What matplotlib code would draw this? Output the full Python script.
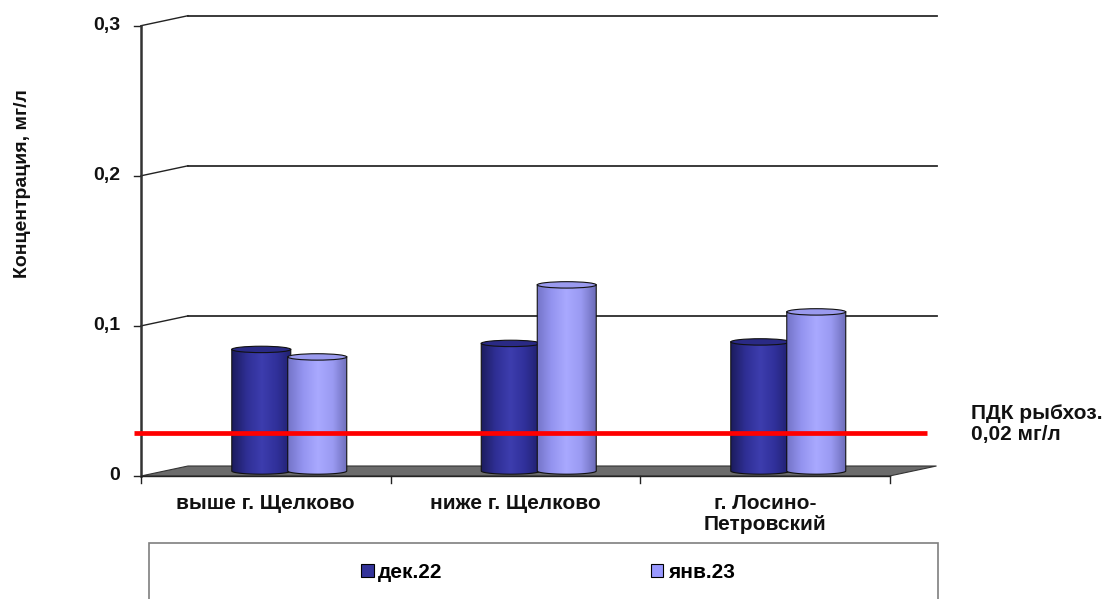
import numpy as np
import matplotlib

matplotlib.use("Agg")
import matplotlib.pyplot as plt
from matplotlib.colors import LinearSegmentedColormap
from matplotlib.patches import Ellipse, Patch, PathPatch, Polygon, Rectangle
from matplotlib.path import Path

plt.rcParams["font.family"] = ["Liberation Sans", "DejaVu Sans"]
plt.rcParams["font.weight"] = "bold"

# --- data ---
categories = ["выше г. Щелково", "ниже г. Щелково", "г. Лосино-\nПетровский"]
series_names = ["дек.22", "янв.23"]
dec22 = [0.081, 0.085, 0.086]
jan23 = [0.076, 0.124, 0.106]
y_ticks = [0.0, 0.1, 0.2, 0.3]
y_tick_labels = ["0", "0,1", "0,2", "0,3"]
y_label = "Концентрация, мг/л"
pdk_level = 0.0285
pdk_label = "ПДК рыбхоз.\n0,02 мг/л"

# --- layout (pixels) ---
W, H = 1107, 599
X0, Y0 = 141, 123          # front-plane origin, from left / bottom
PX_X, PX_Y = 249.5, 1501.0  # pixels per category / per unit value
DX, DY = 47 / PX_X, 10 / PX_Y  # depth offset of the back wall
CYL_W, CYL_OFF, CYL_EY = 59 / PX_X, 28 / PX_X, 3.2 / PX_Y

DARK_CMAP = LinearSegmentedColormap.from_list(
    "dark", ["#1c1c5e", "#2f2f95", "#3d3dae", "#30309a", "#20206c"])
LIGHT_CMAP = LinearSegmentedColormap.from_list(
    "light", ["#7474c8", "#9494f0", "#a9a9ff", "#9a9af2", "#6c6cb8"])
DARK_TOP, LIGHT_TOP = "#2a2a85", "#9a9aee"
DARK, LIGHT = "#333399", "#9999ff"


def cylinder(ax, xc, base, height, cmap, top_color, z):
    left, right = xc - CYL_W / 2, xc + CYL_W / 2
    top = base + height
    t = np.linspace(np.pi, 2 * np.pi, 40)
    arc = np.column_stack([xc + CYL_W / 2 * np.cos(t), base + CYL_EY * np.sin(t)])
    verts = np.vstack([[left, top], arc, [right, top], [left, top]])
    path = Path(verts, closed=True)
    grad = np.linspace(0, 1, 256).reshape(1, -1)
    im = ax.imshow(grad, extent=(left, right, base - CYL_EY, top), cmap=cmap,
                   aspect="auto", origin="lower", zorder=z, interpolation="bilinear")
    clip = PathPatch(path, transform=ax.transData, facecolor="none", edgecolor="none")
    ax.add_patch(clip)
    im.set_clip_path(clip)
    ax.plot(verts[:-1, 0], verts[:-1, 1], color="#111111", lw=0.8, zorder=z + 0.1)
    ax.add_patch(Ellipse((xc, top), CYL_W, 2 * CYL_EY, facecolor=top_color,
                         edgecolor="#111111", lw=0.8, zorder=z + 0.2))


fig = plt.figure(figsize=(W / 100, H / 100), dpi=100)
ax = fig.add_axes([0, 0, 1, 1])
ax.set_axis_off()

n = len(categories)

# floor
ax.add_patch(Polygon([(0, 0), (n, 0), (n + DX, DY), (DX, DY)], closed=True,
                     facecolor="#6b6b6b", edgecolor="#333333", lw=0.8, zorder=1))

# back-wall gridlines, wall diagonals and y ticks
for v, lab in zip(y_ticks, y_tick_labels):
    if v > 0:
        ax.plot([DX, n + DX], [v + DY, v + DY], color="#2b2b2b", lw=1.3, zorder=1)
        ax.plot([0, DX], [v, v + DY], color="#222222", lw=1.0, zorder=1)
    ax.plot([-7 / PX_X, 0], [v, v], color="#222222", lw=1.0, zorder=2)
    ax.text(-21 / PX_X, v, lab, ha="right", va="center", fontsize=14, color="#111111")

# front axis lines and category ticks
ax.plot([0, 0], [0, y_ticks[-1]], color="#333333", lw=1.8, zorder=2)
ax.plot([0, n], [0, 0], color="#222222", lw=1.0, zorder=2)
for i in range(n + 1):
    ax.plot([i, i], [0, -7 / PX_Y], color="#222222", lw=1.0, zorder=2)

# cylinders at mid depth
for i, (a, b) in enumerate(zip(dec22, jan23)):
    xc = i + 0.5 + DX / 2
    cylinder(ax, xc - CYL_OFF, DY / 2, a, DARK_CMAP, DARK_TOP, 3)
    cylinder(ax, xc + CYL_OFF, DY / 2, b, LIGHT_CMAP, LIGHT_TOP, 4)

# PDK reference line
ax.plot([-7 / PX_X, (927 - X0) / PX_X], [pdk_level, pdk_level], color="#ff0000",
        lw=3.4, solid_capstyle="butt", zorder=10)
ax.text((971 - X0) / PX_X, (476 - 424) / PX_Y, pdk_label, ha="left", va="center",
        fontsize=15, linespacing=1.08, color="#111111")

# category labels
for i, cat in enumerate(categories):
    ax.text(i + 0.5, -18 / PX_Y, cat, ha="center", va="top", fontsize=15,
            linespacing=1.12, color="#111111")

ax.text((22 - X0) / PX_X, (476 - 184) / PX_Y, y_label, rotation=90, ha="center",
        va="center", fontsize=14, color="#111111")

ax.set_xlim(-X0 / PX_X, (W - X0) / PX_X)
ax.set_ylim(-Y0 / PX_Y, (H - Y0) / PX_Y)

# legend box (runs off the bottom edge, as in the reference)
fig.patches.append(Rectangle((149 / W, -10 / H), (938 - 149) / W, 66 / H,
                             transform=fig.transFigure, facecolor="white",
                             edgecolor="#7f7f7f", lw=1.2, zorder=0))
handles = [Patch(facecolor=DARK, edgecolor="black", lw=0.8),
           Patch(facecolor=LIGHT, edgecolor="black", lw=0.8)]
fig.legend(handles, series_names, ncol=2, loc="center", bbox_to_anchor=(548 / W, 27 / H),
           frameon=False, fontsize=15, handlelength=0.6, handleheight=0.6,
           handletextpad=0.2, columnspacing=10.0)

fig.savefig("out.png", dpi=100, facecolor="white")
